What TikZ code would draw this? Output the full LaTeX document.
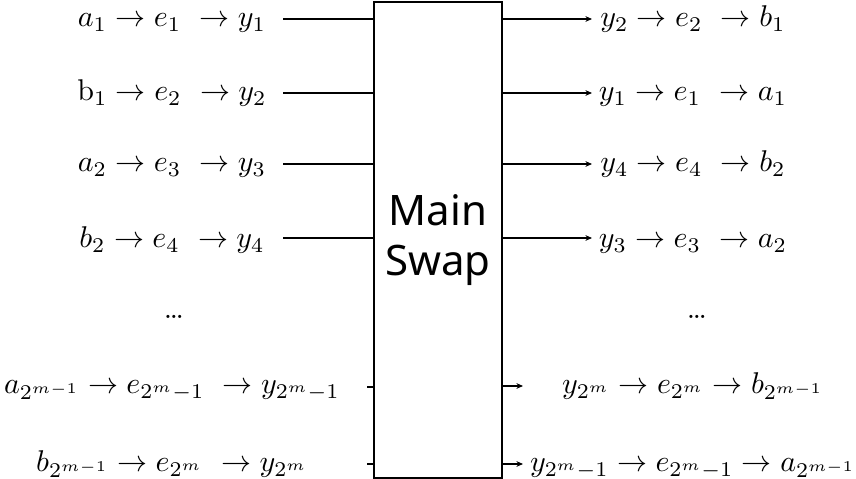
\documentclass[tikz,border=0pt]{standalone}
\usepackage{fontspec}
\newfontfamily\boxfont{Noto Sans}
\usetikzlibrary{positioning, arrows.meta}

\tikzset{
	lab/.style={inner sep=0pt, anchor=base},
	swapbox/.style={draw, line width=0.45pt, minimum width=42.67pt, minimum height=158.67pt,
		inner sep=0pt, align=center, font=\boxfont\fontsize{14}{16.7}\selectfont},
	wire/.style={line width=0.45pt},
	>={Stealth[length=2.2pt,width=1.9pt]}
}

\begin{document}
\begin{tikzpicture}[x=0.3333pt, y=-0.3333pt]
	\useasboundingbox (0,0) rectangle (856,479);
	% swap box
	\node[swapbox] (swap) at (438,240) {Main\\Swap};
	% inputs
	\node[lab] (l1) at (172,27) {$a_1 \rightarrow e_1\ \rightarrow y_1$};
	\node[lab] (l2) at (172,101) {$\mathrm{b}_1 \rightarrow e_2\ \rightarrow y_2$};
	\node[lab] (l3) at (172,172) {$a_2 \rightarrow e_3\ \rightarrow y_3$};
	\node[lab] (l4) at (172,248) {$b_2 \rightarrow e_4\ \rightarrow y_4$};
	\node[lab] (ldots) at (174,319) {\dots};
	\node[lab] (l5) at (172,394) {$a_{2^{m-1}} \rightarrow e_{2^m-1}\ \rightarrow y_{2^m-1}$};
	\node[lab] (l6) at (172,472) {$b_{2^{m-1}} \rightarrow e_{2^m}\ \rightarrow y_{2^m}$};
	% outputs
	\node[lab] (r1) at (693,27) {$y_2 \rightarrow e_2\ \rightarrow b_1$};
	\node[lab] (r2) at (693,101) {$y_1 \rightarrow e_1\ \rightarrow a_1$};
	\node[lab] (r3) at (693,172) {$y_4 \rightarrow e_4\ \rightarrow b_2$};
	\node[lab] (r4) at (693,248) {$y_3 \rightarrow e_3\ \rightarrow a_2$};
	\node[lab] (rdots) at (697,319) {\dots};
	\node[lab] (r5) at (693,394) {$y_{2^m} \rightarrow e_{2^m} \rightarrow b_{2^{m-1}}$};
	\node[lab] (r6) at (693,472) {$y_{2^m-1} \rightarrow e_{2^m-1} \rightarrow a_{2^{m-1}}$};
	% wire ends
	\coordinate (in1) at (283,19);
	\coordinate (in2) at (283,93);
	\coordinate (in3) at (283,164);
	\coordinate (in4) at (283,238);
	\coordinate (in5) at (367,387);
	\coordinate (in6) at (367,464);
	\coordinate (out1) at (592,19);
	\coordinate (out2) at (592,93);
	\coordinate (out3) at (592,164);
	\coordinate (out4) at (592,238);
	\coordinate (out5) at (523,386);
	\coordinate (out6) at (523,464);
	% wires
	\draw[wire] (in1) -- (in1 -| swap.west);
	\draw[wire] (in2) -- (in2 -| swap.west);
	\draw[wire] (in3) -- (in3 -| swap.west);
	\draw[wire] (in4) -- (in4 -| swap.west);
	\draw[wire] (in5) -- (in5 -| swap.west);
	\draw[wire] (in6) -- (in6 -| swap.west);
	\draw[wire, ->] (out1 -| swap.east) -- (out1);
	\draw[wire, ->] (out2 -| swap.east) -- (out2);
	\draw[wire, ->] (out3 -| swap.east) -- (out3);
	\draw[wire, ->] (out4 -| swap.east) -- (out4);
	\draw[wire, ->] (out5 -| swap.east) -- (out5);
	\draw[wire, ->] (out6 -| swap.east) -- (out6);
\end{tikzpicture}
\end{document}
